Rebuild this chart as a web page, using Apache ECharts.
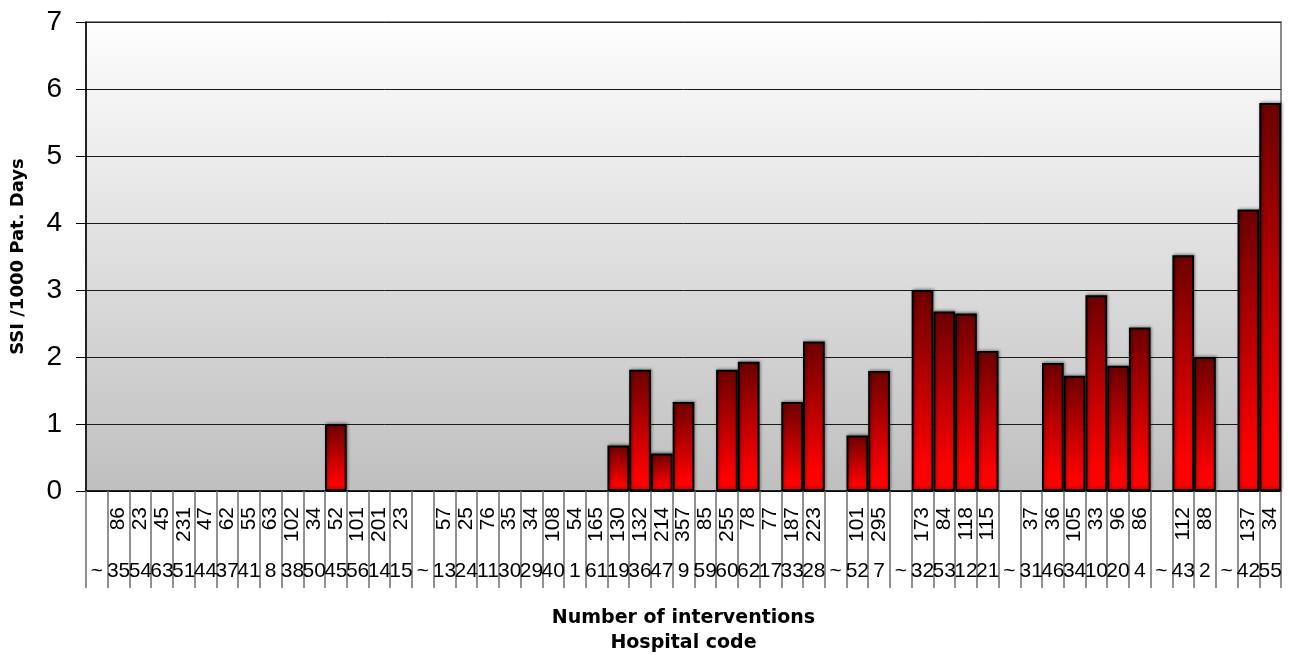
<!DOCTYPE html>
<html>
<head>
<meta charset="utf-8">
<title>SSI per 1000 patient days by hospital</title>
<script src="https://cdn.jsdelivr.net/npm/echarts@6/dist/echarts.min.js"></script>
<style>
  html, body { margin: 0; padding: 0; background: #ffffff; }
  #chart { width: 1289px; height: 655px; }
</style>
</head>
<body>
<div id="chart"></div>
<script>
// Hospital codes ("~" marks a gap between hospital groups)
const hospitalCodes = ['~', '35', '54', '63', '51', '44', '37', '41', '8', '38', '50', '45', '56', '14', '15',
  '~', '13', '24', '11', '30', '29', '40', '1', '61', '19', '36', '47', '9', '59', '60', '62', '17', '33', '28',
  '~', '52', '7', '~', '32', '53', '12', '21', '~', '31', '46', '34', '10', '20', '4', '~', '43', '2', '~', '42', '55'];

// Number of interventions per hospital
const interventions = ['', '86', '23', '45', '231', '47', '62', '55', '63', '102', '34', '52', '101', '201', '23',
  '', '57', '25', '76', '35', '34', '108', '54', '165', '130', '132', '214', '357', '85', '255', '78', '77', '187', '223',
  '', '101', '295', '', '173', '84', '118', '115', '', '37', '36', '105', '33', '96', '86', '', '112', '88', '', '137', '34'];

// SSI rate per 1000 patient days
const ssiRate = ['-', 0, 0, 0, 0, 0, 0, 0, 0, 0, 0, 1.0, 0, 0, 0,
  '-', 0, 0, 0, 0, 0, 0, 0, 0, 0.68, 1.81, 0.56, 1.33, 0, 1.81, 1.93, 0, 1.33, 2.23,
  '-', 0.83, 1.79, '-', 3.0, 2.68, 2.65, 2.09, '-', 0, 1.91, 1.72, 2.92, 1.87, 2.44, '-', 3.52, 2.0, '-', 4.2, 5.79];

const yTicks = [0, 1, 2, 3, 4, 5, 6, 7];

const baseFont = "'Liberation Sans', Arial, sans-serif";
const nameFont = {
  fontFamily: "'DejaVu Sans', sans-serif",
  fontWeight: 'bold',
  fontSize: 18,
  color: '#000'
};
const xNameFont = Object.assign({}, nameFont, { fontSize: 19 });

// zero-rate hospitals get no outline or shadow, so nothing sits on the baseline
const barData = ssiRate.map(v => (v === 0
  ? { value: v, itemStyle: { borderWidth: 0, shadowBlur: 0, shadowColor: 'transparent' } }
  : v));

const chart = echarts.init(document.getElementById('chart'), null, { renderer: 'canvas' });

chart.setOption({
  animation: false,
  backgroundColor: '#ffffff',
  grid: {
    left: 86,
    right: 8,
    top: 22,
    bottom: 164,
    outerBoundsMode: 'none',
    show: true,
    borderColor: '#8c8c8c',
    borderWidth: 2,
    backgroundColor: {
      type: 'linear', x: 0, y: 0, x2: 0, y2: 1,
      colorStops: [
        { offset: 0, color: '#fefefe' },
        { offset: 1, color: '#bfbfbf' }
      ]
    }
  },
  xAxis: [
    {
      type: 'category',
      data: interventions,
      position: 'bottom',
      boundaryGap: true,
      axisLine: { show: true, lineStyle: { color: '#000', width: 1.5 } },
      axisTick: { show: true, interval: 0, length: 97, lineStyle: { color: '#6e6e6e', width: 1.5 } },
      axisLabel: {
        interval: 0,
        rotate: 90,
        margin: 16,
        fontSize: 21,
        fontFamily: baseFont,
        color: '#000'
      },
      splitLine: { show: false },
      name: 'Number of interventions',
      nameLocation: 'middle',
      nameGap: 118,
      nameTextStyle: xNameFont
    },
    {
      type: 'category',
      data: hospitalCodes,
      position: 'bottom',
      boundaryGap: true,
      axisLine: { show: false },
      axisTick: { show: false },
      axisLabel: {
        interval: 0,
        margin: 70,
        fontSize: 21,
        fontFamily: baseFont,
        color: '#000'
      },
      splitLine: { show: false },
      name: 'Hospital code',
      nameLocation: 'middle',
      nameGap: 143,
      nameTextStyle: xNameFont
    }
  ],
  yAxis: {
    type: 'value',
    min: yTicks[0],
    max: yTicks[yTicks.length - 1],
    interval: 1,
    axisLine: { show: true, lineStyle: { color: '#000', width: 1.5 } },
    axisTick: { show: true, length: 10, lineStyle: { color: '#000', width: 1 } },
    axisLabel: {
      margin: 24,
      fontSize: 28,
      fontFamily: baseFont,
      color: '#000'
    },
    splitLine: { show: true, lineStyle: { color: '#1a1a1a', width: 1 } },
    name: 'SSI /1000 Pat. Days',
    nameLocation: 'middle',
    nameGap: 59,
    nameTextStyle: nameFont
  },
  series: [
    {
      type: 'bar',
      xAxisIndex: 0,
      data: barData,
      barCategoryGap: '0%',
      itemStyle: {
        color: {
          type: 'linear', x: 0, y: 0, x2: 0, y2: 1,
          colorStops: [
            { offset: 0, color: '#6c0000' },
            { offset: 0.88, color: '#ff0000' },
            { offset: 1, color: '#ff0000' }
          ]
        },
        borderColor: '#000',
        borderWidth: 2,
        shadowColor: 'rgba(0,0,0,0.35)',
        shadowBlur: 3,
        shadowOffsetX: 1,
        shadowOffsetY: -1
      }
    }
  ]
});
</script>
</body>
</html>
